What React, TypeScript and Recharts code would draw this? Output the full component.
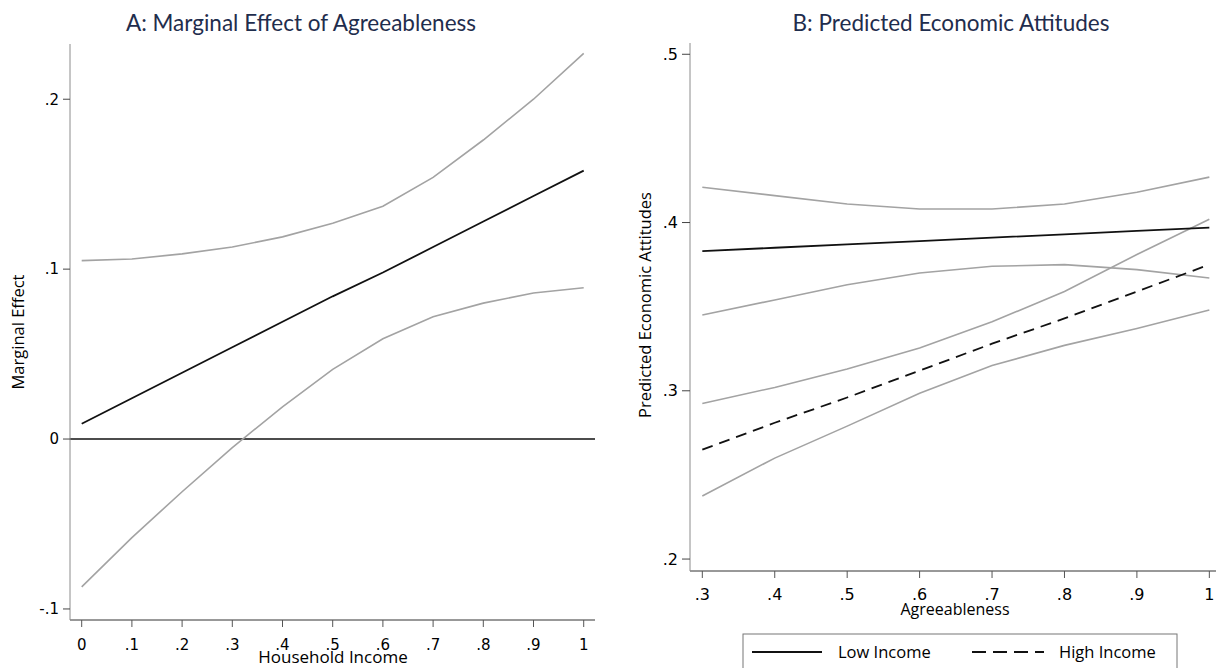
import React from 'react';
import { LineChart, Line, XAxis, YAxis, ReferenceLine } from 'recharts';

// Panel A: marginal effect of agreeableness across household income
const incomeGrid = [0, 0.1, 0.2, 0.3, 0.4, 0.5, 0.6, 0.7, 0.8, 0.9, 1];
const meEstimate = [0.009, 0.024, 0.039, 0.054, 0.069, 0.084, 0.098, 0.113, 0.128, 0.143, 0.158];
const meLower = [-0.087, -0.058, -0.031, -0.005, 0.019, 0.041, 0.059, 0.072, 0.08, 0.086, 0.089];
const meUpper = [0.105, 0.106, 0.109, 0.113, 0.119, 0.127, 0.137, 0.154, 0.176, 0.2, 0.227];
const meTicksX = [0, 0.1, 0.2, 0.3, 0.4, 0.5, 0.6, 0.7, 0.8, 0.9, 1];
const meTicksY = [-0.1, 0, 0.1, 0.2];

// Panel B: predicted economic attitudes across agreeableness
const agreeGrid = [0.3, 0.4, 0.5, 0.6, 0.7, 0.8, 0.9, 1];
const lowEst = [0.383, 0.385, 0.387, 0.389, 0.391, 0.393, 0.395, 0.397];
const lowUpper = [0.421, 0.416, 0.411, 0.408, 0.408, 0.411, 0.418, 0.427];
const lowLower = [0.345, 0.354, 0.363, 0.37, 0.374, 0.375, 0.372, 0.367];
const highEst = [0.265, 0.281, 0.296, 0.312, 0.328, 0.343, 0.359, 0.375];
const highUpper = [0.2925, 0.302, 0.313, 0.3254, 0.341, 0.359, 0.381, 0.402];
const highLower = [0.2375, 0.26, 0.279, 0.2986, 0.315, 0.327, 0.337, 0.348];
const paTicksX = [0.3, 0.4, 0.5, 0.6, 0.7, 0.8, 0.9, 1];
const paTicksY = [0.2, 0.3, 0.4, 0.5];

const meData = incomeGrid.map((x, i) => ({ x, est: meEstimate[i], lo: meLower[i], hi: meUpper[i] }));
const paData = agreeGrid.map((x, i) => ({
  x,
  lowEst: lowEst[i],
  lowLo: lowLower[i],
  lowHi: lowUpper[i],
  highEst: highEst[i],
  highLo: highLower[i],
  highHi: highUpper[i],
}));

// stata-ish number labels: .1, -.1, 0, 1
const fmt = (v: number) => {
  const s = String(Math.round(v * 100) / 100);
  return s.replace(/^0\./, '.').replace(/^-0\./, '-.');
};

const GRAY = '#a3a3a3';
const BLACK = '#111';
const TITLE = '#1f2d4d';
const tickFont = { fontSize: 15, fill: '#000', fontFamily: 'DejaVu Sans' };
const labelFont = 'Open Sans';

export default function App() {
  return (
    <div style={{ position: 'absolute', left: 0, top: 0, width: 1216, height: 668, background: '#fff' }}>
      <div style={{ position: 'absolute', left: 0, top: 0 }}>
        <LineChart width={608} height={668} data={meData} margin={{ top: 44, right: 13, left: 0, bottom: 0 }}>
          <XAxis
            dataKey="x"
            type="number"
            domain={[-0.0233, 1.0225]}
            allowDataOverflow
            ticks={meTicksX}
            tickFormatter={fmt}
            tick={tickFont}
            tickSize={7}
            tickMargin={12}
            height={48}
            axisLine={{ stroke: '#333' }}
            tickLine={{ stroke: '#555' }}
          />
          <YAxis
            type="number"
            domain={[-0.1065, 0.2325]}
            allowDataOverflow
            ticks={meTicksY}
            tickFormatter={fmt}
            tick={tickFont}
            tickSize={7}
            tickMargin={4}
            width={70}
            axisLine={{ stroke: '#8c8c8c' }}
            tickLine={{ stroke: '#444' }}
          />
          <ReferenceLine y={0} stroke={BLACK} strokeWidth={1.6} />
          <Line dataKey="hi" type="linear" stroke={GRAY} strokeWidth={1.6} dot={false} isAnimationActive={false} />
          <Line dataKey="lo" type="linear" stroke={GRAY} strokeWidth={1.6} dot={false} isAnimationActive={false} />
          <Line dataKey="est" type="linear" stroke={BLACK} strokeWidth={1.8} dot={false} isAnimationActive={false} />
          <text x={301} y={31} textAnchor="middle" fontFamily="Lato" fontSize={22.5} fill={TITLE}>
            A: Marginal Effect of Agreeableness
          </text>
          <text transform="translate(24,332) rotate(-90)" textAnchor="middle" fontFamily={labelFont} fontSize={16.5} fill="#000">
            Marginal Effect
          </text>
          <text x={333} y={663} textAnchor="middle" fontFamily={labelFont} fontSize={17} fill="#000">
            Household Income
          </text>
        </LineChart>
      </div>
      <div style={{ position: 'absolute', left: 608, top: 0 }}>
        <LineChart width={608} height={668} data={paData} margin={{ top: 43, right: 0, left: 0, bottom: 0 }}>
          <XAxis
            dataKey="x"
            type="number"
            domain={[0.283, 1.0092]}
            allowDataOverflow
            ticks={paTicksX}
            tickFormatter={fmt}
            tick={{ ...tickFont, fontSize: 16 }}
            tickSize={7}
            tickMargin={11}
            height={97}
            axisLine={{ stroke: '#333' }}
            tickLine={{ stroke: '#555' }}
          />
          <YAxis
            type="number"
            domain={[0.1929, 0.5067]}
            allowDataOverflow
            ticks={paTicksY}
            tickFormatter={fmt}
            tick={{ ...tickFont, fontSize: 16 }}
            tickSize={8}
            tickMargin={4}
            width={82}
            axisLine={{ stroke: '#8c8c8c' }}
            tickLine={{ stroke: '#444' }}
          />
          <Line dataKey="lowHi" type="linear" stroke={GRAY} strokeWidth={1.6} dot={false} isAnimationActive={false} />
          <Line dataKey="lowLo" type="linear" stroke={GRAY} strokeWidth={1.6} dot={false} isAnimationActive={false} />
          <Line dataKey="highHi" type="linear" stroke={GRAY} strokeWidth={1.6} dot={false} isAnimationActive={false} />
          <Line dataKey="highLo" type="linear" stroke={GRAY} strokeWidth={1.6} dot={false} isAnimationActive={false} />
          <Line dataKey="lowEst" type="linear" stroke={BLACK} strokeWidth={1.8} dot={false} isAnimationActive={false} />
          <Line dataKey="highEst" type="linear" stroke={BLACK} strokeWidth={1.8} strokeDasharray="11 7" dot={false} isAnimationActive={false} />
          <text x={343} y={31} textAnchor="middle" fontFamily="Lato" fontSize={22.5} fill={TITLE}>
            B: Predicted Economic Attitudes
          </text>
          <text transform="translate(43,305) rotate(-90)" textAnchor="middle" fontFamily={labelFont} fontSize={16.5} fill="#000">
            Predicted Economic Attitudes
          </text>
          <text x={347} y={615} textAnchor="middle" fontFamily={labelFont} fontSize={16} fill="#000">
            Agreeableness
          </text>
          <rect x={135} y={634} width={434} height={40} fill="#fff" stroke="#777" strokeWidth={1} />
          <line x1={144} y1={652} x2={214} y2={652} stroke={BLACK} strokeWidth={1.8} />
          <text x={230} y={658} fontFamily={labelFont} fontSize={16.5} fill="#000">Low Income</text>
          <line x1={364} y1={652} x2={436} y2={652} stroke={BLACK} strokeWidth={1.8} strokeDasharray="14 7" />
          <text x={451} y={658} fontFamily={labelFont} fontSize={16.5} fill="#000">High Income</text>
        </LineChart>
      </div>
    </div>
  );
}
